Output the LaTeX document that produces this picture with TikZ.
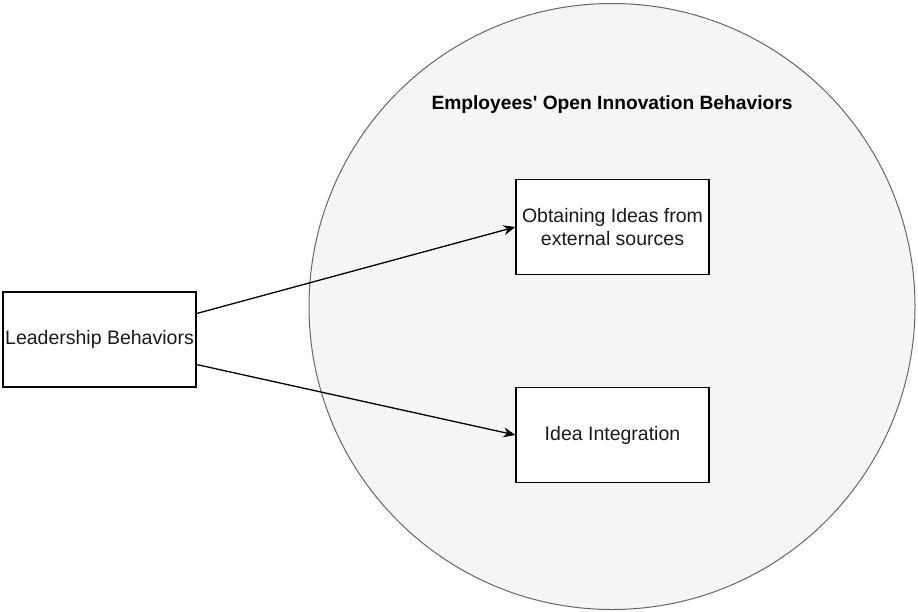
\documentclass[tikz,border=0pt]{standalone}
\usepackage{fontspec}
\setmainfont{Liberation Sans}
\usetikzlibrary{arrows.meta,calc}
\definecolor{areafill}{HTML}{F5F5F5}
\definecolor{arealine}{HTML}{666666}
\definecolor{labeltext}{HTML}{1A1A1A}
\begin{document}
\begin{tikzpicture}[x=1pt,y=-1pt,
  box/.style={draw=black,fill=white,line width=1.3pt,minimum width=193pt,minimum height=95pt,inner sep=0pt,align=center,text=labeltext,font=\fontsize{19.5}{23.5}\selectfont},
  link/.style={line width=1.3pt,-{Stealth[length=12pt,width=10pt]}}]
  \useasboundingbox (0,0) rectangle (918,611);
  % surrounding area for the open innovation behaviours
  \node (area) [circle,draw=arealine,fill=areafill,line width=1pt,minimum size=606pt,inner sep=0pt] at (612,306.5) {};
  \node (title) at (612,105) {\fontsize{19.2}{23}\selectfont\bfseries Employees\textquotesingle{} Open Innovation Behaviors};
  % boxes
  \node (lead) [box] at (99.5,339.5) {Leadership Behaviors};
  \node (obtain) [box] at (612.5,227) {Obtaining Ideas from\\external sources};
  \node (integ) [box] at (612.5,435) {Idea Integration};
  % connectors
  \draw[link] ($(lead.north east)!0.23!(lead.south east)$) -- (obtain.west);
  \draw[link] ($(lead.north east)!0.76!(lead.south east)$) -- (integ.west);
\end{tikzpicture}
\end{document}
